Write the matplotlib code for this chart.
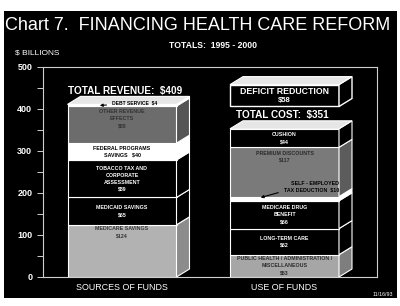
import matplotlib.pyplot as plt
from matplotlib.patches import Polygon, Rectangle

plt.rcParams['font.family'] = ['Liberation Sans', 'DejaVu Sans']

# sources of funds (bottom to top)
src_labels = ["MEDICARE SAVINGS\n$124", "MEDICAID SAVINGS\n$65",
              "TOBACCO TAX AND\nCORPORATE\nASSESSMENT\n$89",
              "FEDERAL PROGRAMS\nSAVINGS   $40", "OTHER REVENUE\nEFFECTS\n$88", ""]
src_values = [124, 65, 89, 40, 88, 4]
src_colors = ['#b2b2b2', '#000000', '#000000', '#ffffff', '#6c6c6c', '#ffffff']
src_side = ['#8c8c8c', '#000000', '#000000', '#ffffff', '#555555', '#ffffff']
src_text = ['#333333', 'white', 'white', 'black', '#333333', 'black']

# use of funds (bottom to top)
use_labels = ["PUBLIC HEALTH / ADMINISTRATION /\nMISCELLANEOUS\n$53", "LONG-TERM CARE\n$62",
              "MEDICARE DRUG\nBENEFIT\n$66", "", "PREMIUM DISCOUNTS\n$117", "CUSHION\n$44"]
use_values = [53, 62, 66, 10, 117, 44]
use_colors = ['#a6a6a6', '#000000', '#000000', '#ffffff', '#7a7a7a', '#000000']
use_side = ['#7e7e7e', '#000000', '#000000', '#ffffff', '#5c5c5c', '#000000']
use_text = ['#2a2a2a', 'white', 'white', 'black', '#2a2a2a', 'white']

deficit = 58
total_rev = 409
total_cost = 351

fig = plt.figure(figsize=(4, 3.06), dpi=100, facecolor='white')
fig.patches.append(Rectangle((4 / 400, 1 - 298 / 306), 393 / 400, 287 / 306,
                             transform=fig.transFigure, facecolor='black', edgecolor='none', zorder=-10))
ax = fig.add_axes([42.7 / 400, 29 / 306, 334 / 400, 210.5 / 306])
ax.set_facecolor('black')
ax.set_xlim(42.7, 376.7)
ax.set_ylim(0, 500)

W = 109
DX, DY = 13, 19


def draw_stack(xc, values, colors, sides, labels, tcolors, top_offsets):
    x0, x1 = xc - W / 2, xc + W / 2
    bottom = 0
    for v, c, s, lab, tc, off in zip(values, colors, sides, labels, tcolors, top_offsets):
        ax.bar(xc, v, bottom=bottom, width=W, color=c, edgecolor='white', linewidth=0.8, zorder=2)
        ax.add_patch(Polygon([(x1, bottom), (x1 + DX, bottom + DY), (x1 + DX, bottom + v + DY), (x1, bottom + v)],
                             closed=True, facecolor=s, edgecolor='white', linewidth=0.8, zorder=2))
        if lab:
            y = bottom + v / 2 if off is None else bottom + v - off
            ax.text(xc, y, lab, color=tc, ha='center', va='center' if off is None else 'top',
                    fontsize=3.8, fontweight='bold', linespacing=1.5, zorder=3)
        bottom += v
    ax.add_patch(Polygon([(x0, bottom), (x0 + DX, bottom + DY), (x1 + DX, bottom + DY), (x1, bottom)],
                         closed=True, facecolor='#e6e6e6', edgecolor='white', linewidth=0.8, zorder=2))
    return bottom


xl, xr = 122, 284.5
draw_stack(xl, src_values, src_colors, src_side, src_labels, src_text, [4, None, None, None, 8, None])
draw_stack(xr, use_values, use_colors, use_side, use_labels, use_text, [None, None, None, None, 8, None])

# deficit reduction box
dbot = total_rev - 4
ax.bar(xr, deficit - 6, bottom=dbot, width=W, color='black', edgecolor='white', linewidth=1.0, zorder=2)
dtop = dbot + deficit - 6
x1 = xr + W / 2
ax.add_patch(Polygon([(x1, dbot), (x1 + DX, dbot + DY), (x1 + DX, dtop + DY), (x1, dtop)],
                     closed=True, facecolor='black', edgecolor='white', linewidth=1.0, zorder=2))
ax.add_patch(Polygon([(xr - W / 2, dtop), (xr - W / 2 + DX, dtop + DY), (x1 + DX, dtop + DY), (x1, dtop)],
                     closed=True, facecolor='#e6e6e6', edgecolor='white', linewidth=0.8, zorder=2))
ax.text(xr, dbot + (dtop - dbot) * 0.68, "DEFICIT REDUCTION", color='white', ha='center', va='center',
        fontsize=6.3, fontweight='bold')
ax.text(xr, dbot + (dtop - dbot) * 0.27, f"${deficit}", color='white', ha='center', va='center',
        fontsize=5.5, fontweight='bold')

ax.text(xl + 3, 442, f"TOTAL REVENUE:  ${total_rev}", color='white', ha='center', va='center',
        fontsize=7.2, fontweight='bold')
ax.text(xr - 2, 385, f"TOTAL COST:  ${total_cost}", color='white', ha='center', va='center',
        fontsize=7.2, fontweight='bold')

# callouts
ax.annotate("DEBT SERVICE  $4", xy=(97, 407), xytext=(112, 413), color='black', fontsize=3.6,
            fontweight='bold', ha='left', va='center', zorder=4,
            arrowprops=dict(arrowstyle='-|>', color='black', lw=0.8, mutation_scale=4))
ax.annotate("SELF - EMPLOYED\nTAX DEDUCTION  $10", xy=(258, 187), xytext=(339, 214), color='black',
            fontsize=3.8, fontweight='bold', ha='right', va='center', zorder=4, linespacing=1.5,
            arrowprops=dict(arrowstyle='-|>', color='black', lw=0.8, mutation_scale=4,
                            relpos=(0.12, 0.3)))

# axes styling
for sp in ax.spines.values():
    sp.set_color('#cfcfcf')
    sp.set_linewidth(0.8)
ax.set_xticks([])
ax.set_yticks(range(0, 501, 100))
ax.set_yticks(range(50, 500, 100), minor=True)
ax.tick_params(axis='y', which='both', colors='#cfcfcf', length=4, width=0.7)
ax.tick_params(axis='y', labelsize=6.5)
for t in ax.get_yticklabels():
    t.set_fontweight('bold')
    t.set_color('white')

fig.text(5 / 400, 1 - 26 / 306, "Chart 7.  FINANCING HEALTH CARE REFORM", color='white',
         fontsize=13.0, ha='left', va='center')
fig.text(213 / 400, 1 - 46 / 306, "TOTALS:  1995 - 2000", color='white', fontsize=6.2,
         fontweight='bold', ha='center', va='center')
fig.text(15 / 400, 1 - 53 / 306, "$ BILLIONS", color='white', fontsize=6, ha='left', va='center')
fig.text(xl / 400, 1 - 288 / 306, "SOURCES OF FUNDS", color='white', fontsize=6.4,
         ha='center', va='center')
fig.text(xr / 400, 1 - 287 / 306, "USE OF FUNDS", color='white', fontsize=6.4,
         ha='center', va='center')
fig.text(393 / 400, 1 - 295 / 306, "11/16/93", color='white', fontsize=3.8, ha='right', va='center')

fig.savefig('out.png', dpi=100, facecolor='white')
